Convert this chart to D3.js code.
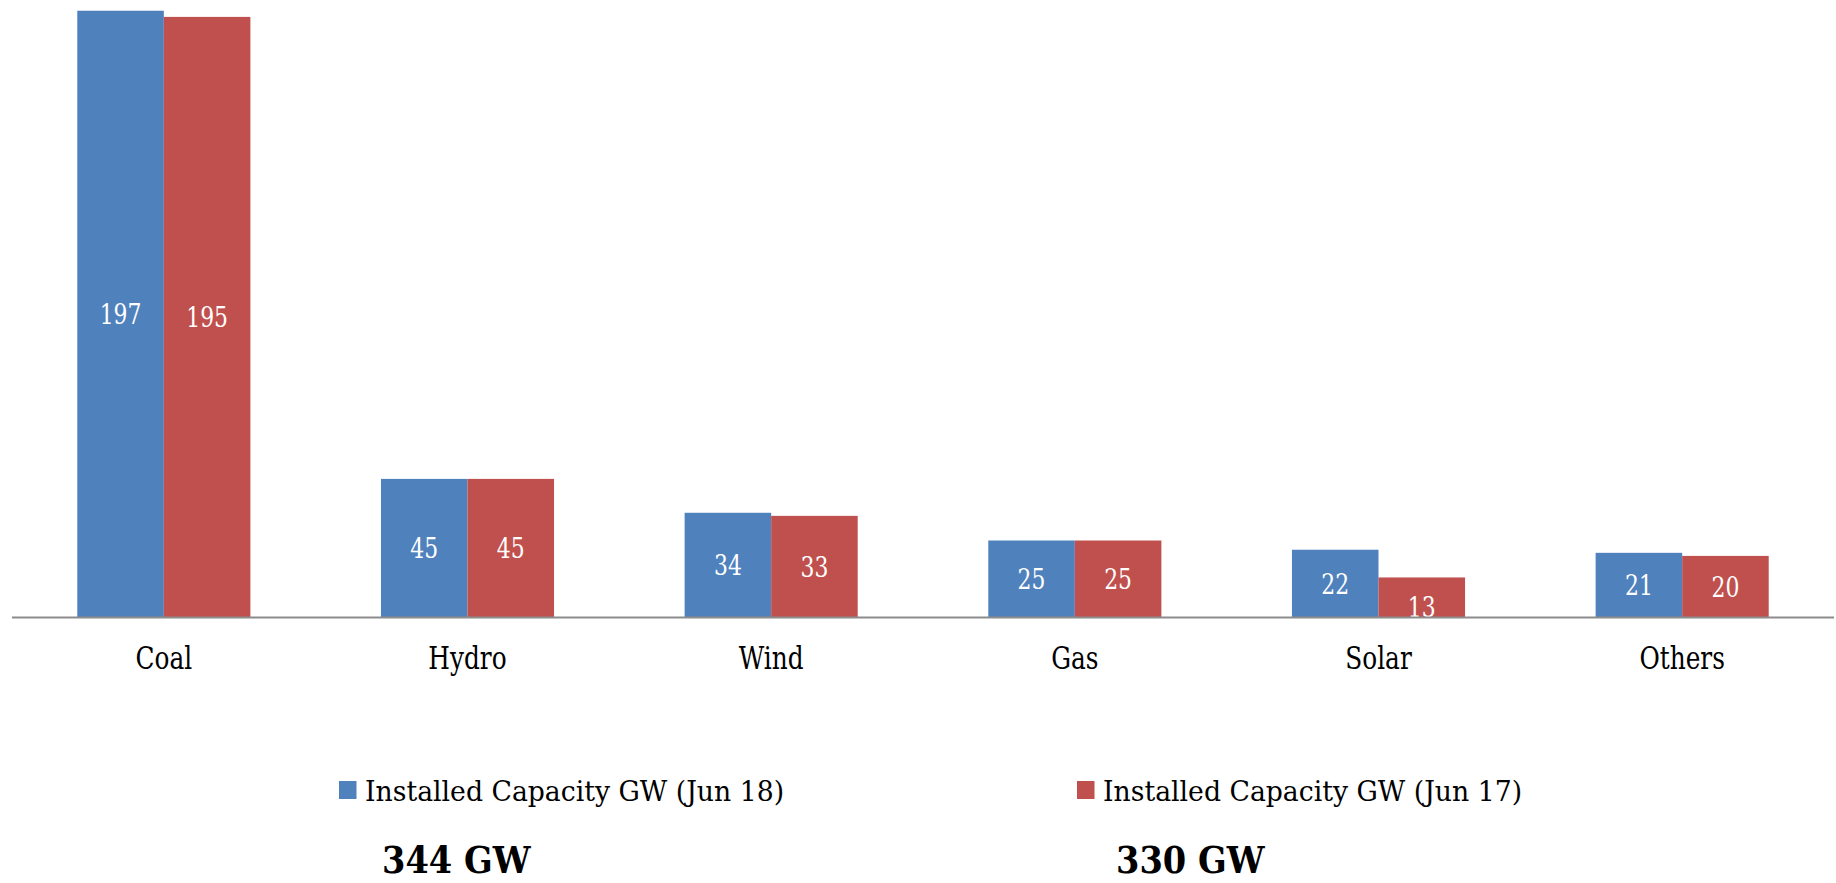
<!DOCTYPE html>
<html>
<head>
<meta charset="utf-8">
<script src="https://cdn.jsdelivr.net/npm/d3@7/dist/d3.min.js"></script>
<style>
  html, body { margin: 0; padding: 0; background: #ffffff; }
  svg { display: block; }
  text { font-family: "DejaVu Serif", "Liberation Serif", serif; }
</style>
</head>
<body>
<svg id="chart" width="1836" height="883"></svg>
<script>
// Installed power capacity by source (GW)
const categories = ["Coal", "Hydro", "Wind", "Gas", "Solar", "Others"];
const seriesNames = ["Installed Capacity GW (Jun 18)", "Installed Capacity GW (Jun 17)"];
const capacityJun18 = [197, 45, 34, 25, 22, 21];
const capacityJun17 = [195, 45, 33, 25, 13, 20];
const totals = ["344 GW", "330 GW"];

const colors = ["#4F81BD", "#C0504D"];
const baseline = 617.5;
const squeeze = 0.8; // narrow serif look

const svg = d3.select("#chart");

const x = d3.scaleBand()
  .domain(categories)
  .range([12, 1834])
  .paddingInner(0.43)
  .paddingOuter(0.215);

const xs = d3.scaleBand()
  .domain(d3.range(seriesNames.length))
  .range([0, x.bandwidth()]);

const y = d3.scaleLinear().domain([0, 200]).range([baseline, 1.5]);

const rows = categories.map((c, i) => ({
  cat: c,
  vals: [capacityJun18[i], capacityJun17[i]]
}));

function sText(sel, tx, ty, sx) {
  return sel.attr("transform", `translate(${tx},${ty}) scale(${sx},1)`);
}

// bars
const groups = svg.append("g").selectAll("g")
  .data(rows).join("g")
  .attr("transform", d => `translate(${x(d.cat)},0)`);

groups.selectAll("rect")
  .data(d => d.vals.map((v, k) => ({ v, k })))
  .join("rect")
  .attr("x", d => xs(d.k))
  .attr("width", xs.bandwidth())
  .attr("y", d => y(d.v))
  .attr("height", d => baseline - y(d.v))
  .attr("fill", d => colors[d.k]);

// value labels, centred in each bar (short bars push the label down to the axis)
const labelSize = 27.4;
groups.selectAll("text.val")
  .data(d => d.vals.map((v, k) => ({ v, k })))
  .join("text")
  .attr("class", "val")
  .each(function (d) {
    const h = baseline - y(d.v);
    const cy = h < 50 ? baseline - 10.5 : (y(d.v) + baseline) / 2;
    sText(d3.select(this), xs(d.k) + xs.bandwidth() / 2, cy + labelSize * 0.364, squeeze);
  })
  .attr("text-anchor", "middle")
  .attr("font-size", labelSize)
  .attr("fill", "#ffffff")
  .text(d => d.v);

// category axis
const axis = svg.append("g").attr("transform", `translate(0,${baseline})`)
  .call(d3.axisBottom(x).tickSize(0).tickPadding(0));
axis.select(".domain").attr("stroke", "#8c8c8c").attr("stroke-width", 2)
  .attr("d", "M12,0H1834");
axis.selectAll(".tick text")
  .attr("y", 0).attr("dy", null)
  .attr("transform", `translate(0,51.5) scale(${squeeze},1)`)
  .attr("font-family", "DejaVu Serif")
  .attr("font-size", 31)
  .attr("fill", "#000000");

// legend
const legendX = [339, 1077];
const legend = svg.append("g").selectAll("g")
  .data(seriesNames).join("g")
  .attr("transform", (d, i) => `translate(${legendX[i]},781)`);
legend.append("rect")
  .attr("width", 17.5).attr("height", 18)
  .attr("fill", (d, i) => colors[i]);
legend.append("text")
  .each(function () { sText(d3.select(this), 26, 19.7, 0.94); })
  .attr("font-size", 28.4)
  .attr("fill", "#000000")
  .text(d => d);

// totals
const totalX = [382, 1116];
svg.append("g").selectAll("text")
  .data(totals).join("text")
  .each(function (d, i) { sText(d3.select(this), totalX[i], 873, 0.92); })
  .attr("font-size", 36.6)
  .attr("font-weight", "bold")
  .attr("fill", "#000000")
  .text(d => d);
</script>
</body>
</html>
